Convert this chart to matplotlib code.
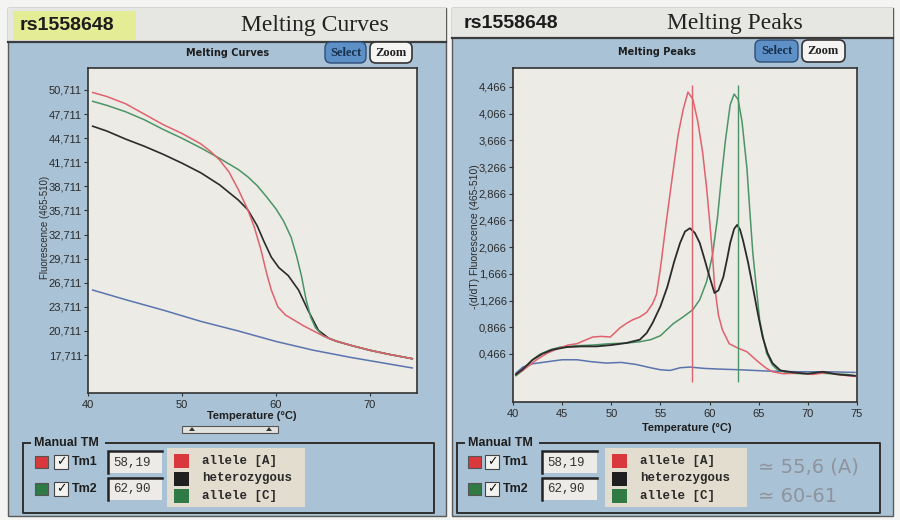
import matplotlib
matplotlib.use("Agg")
import matplotlib.pyplot as plt
from matplotlib.patches import Rectangle, FancyBboxPatch, Polygon
from matplotlib import font_manager

# ---------------- data ----------------
assay_id = "rs1558648"
tm1 = 58.19
tm2 = 62.90
legend_labels = ["allele [A]", "heterozygous", "allele [C]"]

# Melting curves: fluorescence (465-510) vs temperature
mc_red_t = [40.5, 42, 44, 46, 48, 50, 52, 53, 54, 55, 56, 57, 57.7, 58.4, 59.0, 59.5,
            60.2, 61, 62, 63, 64, 65, 66, 68, 70, 72, 74.5]
mc_red_f = [50400, 49900, 49000, 47700, 46400, 45300, 44000, 43100, 42000, 40500, 38300,
            35800, 33600, 30800, 27900, 25800, 23700, 22700, 22000, 21300, 20700, 20100,
            19600, 18900, 18300, 17800, 17250]
mc_green_t = [40.5, 42, 44, 46, 48, 50, 52, 54, 56, 57, 58, 59, 60, 60.8, 61.6, 62.2,
              62.7, 63.2, 63.7, 64.2, 65, 66, 68, 70, 72, 74.5]
mc_green_f = [49300, 48800, 48000, 47000, 45800, 44700, 43500, 42200, 40800, 39900, 38800,
              37400, 35900, 34400, 32400, 30000, 27600, 24600, 22400, 21100, 20100, 19600,
              18900, 18300, 17800, 17250]
mc_black_t = [40.5, 42, 44, 46, 48, 50, 52, 54, 56, 57, 58, 58.7, 59.5, 60.3, 61.3, 62.4,
              63.4, 64.5, 65.6, 66.5, 68, 70, 72, 74.5]
mc_black_f = [46200, 45600, 44600, 43700, 42700, 41600, 40400, 38900, 37000, 35800, 33800,
              31900, 29900, 28600, 27600, 25800, 23300, 20800, 19800, 19400, 18900, 18300,
              17800, 17250]
mc_blue_t = [40.5, 44, 48, 52, 56, 60, 64, 68, 72, 74.5]
mc_blue_f = [25800, 24600, 23300, 21900, 20700, 19400, 18300, 17400, 16600, 16100]

mc_yticks = [17711, 20711, 23711, 26711, 29711, 32711, 35711, 38711, 41711, 44711, 47711, 50711]
mc_xticks = [40, 50, 60, 70]

# Melting peaks: -(d/dT) fluorescence vs temperature
mp_red_t = [40.3, 41.0, 42.4, 43.5, 44.8, 45.6, 46.5, 47.3, 48.1, 49.0, 49.9, 50.9, 51.6,
            52.2, 52.9, 53.6, 54.2, 54.6, 55.0, 55.6, 56.3, 56.8, 57.3, 57.8, 58.3, 58.8,
            59.3, 59.7, 60.0, 60.3, 60.5, 60.9, 61.3, 62.0, 62.8, 63.8, 64.4, 65.1, 65.8,
            66.4, 67.5, 69.0, 70.5, 72.0, 73.5, 74.8]
mp_red_v = [0.16, 0.22, 0.38, 0.48, 0.56, 0.60, 0.62, 0.67, 0.72, 0.73, 0.72, 0.86, 0.93,
            0.98, 1.02, 1.09, 1.22, 1.36, 1.75, 2.45, 3.22, 3.75, 4.12, 4.39, 4.28, 3.95,
            3.48, 2.95, 2.47, 1.95, 1.50, 1.05, 0.83, 0.62, 0.56, 0.50, 0.42, 0.33, 0.25,
            0.20, 0.17, 0.18, 0.16, 0.19, 0.15, 0.13]
mp_green_t = [40.3, 41.0, 42.0, 42.7, 43.8, 44.8, 46.5, 48.1, 49.8, 51.6, 52.9, 54.0, 55.0,
              56.3, 57.3, 58.3, 59.0, 59.7, 60.3, 60.8, 61.2, 61.6, 62.1, 62.5, 62.9, 63.3,
              63.8, 64.1, 64.4, 64.8, 65.1, 65.5, 65.8, 66.4, 66.9, 68.0, 69.5, 71.0, 72.5,
              74.0, 74.8]
mp_green_v = [0.14, 0.22, 0.38, 0.46, 0.53, 0.57, 0.59, 0.60, 0.62, 0.63, 0.65, 0.68, 0.74,
              0.92, 1.02, 1.13, 1.28, 1.55, 1.95, 2.50, 3.10, 3.65, 4.20, 4.36, 4.28, 3.95,
              3.25, 2.60, 1.98, 1.40, 0.97, 0.68, 0.48, 0.30, 0.23, 0.18, 0.17, 0.18, 0.17,
              0.16, 0.14]
mp_black_t = [40.3, 41.0, 42.0, 43.0, 44.0, 45.5, 47.0, 48.5, 50.0, 51.5, 52.9, 53.6, 54.2,
              55.0, 55.7, 56.4, 57.0, 57.5, 58.0, 58.5, 59.0, 59.5, 60.0, 60.5, 60.9, 61.4,
              61.8, 62.1, 62.5, 62.8, 63.1, 63.4, 63.9, 64.4, 64.9, 65.4, 65.9, 66.4, 67.2,
              68.5, 70.0, 71.5, 73.0, 74.8]
mp_black_v = [0.16, 0.24, 0.38, 0.47, 0.53, 0.57, 0.58, 0.58, 0.60, 0.63, 0.68, 0.78, 0.93,
              1.18, 1.47, 1.85, 2.13, 2.30, 2.35, 2.28, 2.13, 1.88, 1.62, 1.38, 1.42, 1.62,
              1.90, 2.13, 2.34, 2.40, 2.33, 2.17, 1.85, 1.47, 1.08, 0.72, 0.48, 0.33, 0.22,
              0.19, 0.17, 0.20, 0.16, 0.14]
mp_blue_t = [40.3, 41.0, 42.0, 43.5, 45.0, 46.5, 48.0, 49.5, 51.0, 52.5, 54.0, 55.0, 56.0,
             57.0, 58.0, 59.5, 61.0, 63.0, 66.0, 69.0, 72.0, 74.8]
mp_blue_v = [0.18, 0.27, 0.32, 0.35, 0.38, 0.38, 0.35, 0.33, 0.34, 0.31, 0.26, 0.23, 0.22,
             0.26, 0.27, 0.25, 0.24, 0.23, 0.21, 0.20, 0.20, 0.19]

mp_yticks = [0.466, 0.866, 1.266, 1.666, 2.066, 2.466, 2.866, 3.266, 3.666, 4.066, 4.466]
mp_xticks = [40, 45, 50, 55, 60, 65, 70, 75]
tm_line_span = (0.05, 4.5)

notes = ["\u2243 55,6 (A)", "\u2243 60-61"]

# ---------------- styles ----------------
C_RED = "#e0626c"
C_GREEN = "#4c9466"
C_BLACK = "#2b2b2b"
C_BLUE = "#5a74ad"
SW_RED = "#d9393c"
SW_BLACK = "#1f1f1f"
SW_GREEN = "#2f7a45"
PANEL = "#a9c2d6"
PLOT_BG = "#ecebe6"
HEADER = "#e6e6e3"

names = {f.name for f in font_manager.fontManager.ttflist}
NARROW = "Liberation Sans Narrow" if "Liberation Sans Narrow" in names else "Liberation Sans"

W, H = 900, 520
fig = plt.figure(figsize=(W / 100, H / 100), dpi=100, facecolor="#f4f4f2")

bg = fig.add_axes([0, 0, 1, 1])
bg.set_xlim(0, W)
bg.set_ylim(H, 0)
bg.axis("off")


def rect(x0, y0, x1, y1, **kw):
    bg.add_patch(Rectangle((x0, y0), x1 - x0, y1 - y0, **kw))


def rbox(x0, y0, x1, y1, r=6, **kw):
    bg.add_patch(FancyBboxPatch((x0, y0), x1 - x0, y1 - y0,
                                boxstyle=f"round,pad=0,rounding_size={r}", **kw))


def px_axes(x0, y0, x1, y1):
    return fig.add_axes([x0 / W, 1 - y1 / H, (x1 - x0) / W, (y1 - y0) / H])


def panel(x0, x1, header_bottom, title, title_x, highlight):
    rect(x0, 8, x1, 516, facecolor=PANEL, edgecolor="#5a5a5a", lw=1.0, zorder=1)
    rect(x0, 8, x1, header_bottom, facecolor=HEADER, edgecolor="none", zorder=2)
    bg.plot([x0, x1], [header_bottom, header_bottom], color="#3c3c3c", lw=1.6, zorder=3)
    if highlight:
        rect(x0 + 5, 11, x0 + 128, header_bottom - 2, facecolor="#e4ec95",
             edgecolor="none", zorder=3)
    bg.text(x0 + 12, (8 + header_bottom) / 2 + 1, assay_id, fontsize=14,
            fontweight="bold", family="Liberation Sans", color="#1c1c1c",
            va="center", ha="left", zorder=4)
    bg.text(title_x, (8 + header_bottom) / 2 + 1, title, fontsize=17,
            family="Liberation Serif", color="#222222", va="center", ha="center", zorder=4)


def buttons(sx0, sx1, zx0, zx1, y0, y1):
    rbox(sx0, y0, sx1, y1, r=6, facecolor="#5d90c6", edgecolor="#2f4f75", lw=1.0, zorder=4)
    bg.text((sx0 + sx1) / 2, (y0 + y1) / 2 + 0.5, "Select", fontsize=9, fontweight="bold",
            family="Liberation Serif", color="#17304d", ha="center", va="center", zorder=5)
    rbox(zx0, y0, zx1, y1, r=6, facecolor="#f4f4f2", edgecolor="#333333", lw=1.2, zorder=4)
    bg.text((zx0 + zx1) / 2, (y0 + y1) / 2 + 0.5, "Zoom", fontsize=9, fontweight="bold",
            family="Liberation Serif", color="#222222", ha="center", va="center", zorder=5)


def manual_tm(x0, x1, y0, y1, sw_x, chk_x, lab_x, tb_x0, tb_x1, lg_x0, lg_x1):
    # group frame
    bg.plot([x0, x0, x1, x1, x0], [y0, y1, y1, y0, y0], color="#303030", lw=1.4, zorder=3)
    rect(x0 + 8, y0 - 7, x0 + 82, y0 + 6, facecolor=PANEL, edgecolor="none", zorder=4)
    bg.text(x0 + 11, y0, "Manual TM", fontsize=9, fontweight="bold",
            family="Liberation Sans", color="#1e1e1e", va="center", ha="left", zorder=5)
    rows = [(y0 + 19, SW_RED, "Tm1", tm1), (y0 + 46, SW_GREEN, "Tm2", tm2)]
    for yc, col, lab, val in rows:
        rect(sw_x, yc - 6, sw_x + 13, yc + 6, facecolor=col, edgecolor="#555555",
             lw=0.8, zorder=5)
        rect(chk_x, yc - 7, chk_x + 14, yc + 7, facecolor="#f2f2f0", edgecolor="#444444",
             lw=0.8, zorder=5)
        bg.text(chk_x + 7, yc, "\u2713", fontsize=9, fontweight="bold",
                family="DejaVu Sans", color="#111111", ha="center", va="center", zorder=6)
        bg.text(lab_x, yc, lab, fontsize=9, fontweight="bold", family="Liberation Sans",
                color="#1e1e1e", ha="left", va="center", zorder=5)
        rect(tb_x0, yc - 11, tb_x1, yc + 11, facecolor="#ecebe8", edgecolor="none", zorder=5)
        bg.plot([tb_x0, tb_x0, tb_x1], [yc + 11, yc - 11, yc - 11], color="#222222",
                lw=1.8, zorder=6, solid_joinstyle="miter")
        bg.text(tb_x0 + 5, yc + 0.5, f"{val:.2f}".replace(".", ","), fontsize=9,
                family="Liberation Mono", color="#333333", ha="left", va="center", zorder=6)
    # series legend
    rect(lg_x0, y0 + 5, lg_x1, y1 - 6, facecolor="#e3ddd0", edgecolor="none", zorder=4)
    for i, (col, lab) in enumerate(zip([SW_RED, SW_BLACK, SW_GREEN], legend_labels)):
        yc = y0 + 18 + i * 17.5
        rect(lg_x0 + 7, yc - 7, lg_x0 + 22, yc + 7, facecolor=col, edgecolor="none", zorder=5)
        bg.text(lg_x0 + 35, yc, lab, fontsize=9, family="Liberation Mono",
                fontweight="bold", color="#2a2a2a", ha="left", va="center", zorder=5)


# ---------------- left panel: melting curves ----------------
panel(8, 446, 42, "Melting Curves", 315, True)
bg.text(228, 53, "Melting Curves", fontsize=7, fontweight="bold", family="DejaVu Sans",
        color="#1e1e1e", ha="center", va="center", zorder=4)
buttons(325, 366, 370, 412, 42, 63)
bg.text(45, 227, "Fluorescence (465-510)", rotation=90, fontsize=7, family=NARROW,
        color="#2a2a2a", ha="center", va="center", zorder=4)
bg.text(252, 416, "Temperature (\u00b0C)", fontsize=8, fontweight="bold",
        family="Liberation Sans", color="#1e1e1e", ha="center", va="center", zorder=4)
# scroll bar under the axis
rect(182, 426, 278, 433, facecolor="#e2e2e0", edgecolor="#555555", lw=0.8, zorder=4)
for tx in (192, 269):
    bg.add_patch(Polygon([[tx - 3, 431], [tx + 3, 431], [tx, 427]], closed=True,
                         facecolor="#333333", edgecolor="none", zorder=5))
manual_tm(23, 434, 443, 513, 35, 54, 72, 108, 162, 167, 305)

ax1 = px_axes(88, 68, 417, 393)
ax1.set_facecolor(PLOT_BG)
ax1.plot(mc_blue_t, mc_blue_f, color=C_BLUE, lw=1.1)
ax1.plot(mc_black_t, mc_black_f, color=C_BLACK, lw=1.2)
ax1.plot(mc_green_t, mc_green_f, color=C_GREEN, lw=1.1)
ax1.plot(mc_red_t, mc_red_f, color=C_RED, lw=1.1)
ax1.set_xlim(40, 75)
ax1.set_ylim(12980, 53450)
ax1.set_xticks(mc_xticks)
ax1.set_xticklabels([str(t) for t in mc_xticks])
ax1.set_yticks(mc_yticks)
ax1.set_yticklabels([f"{v:,}" for v in mc_yticks])

# ---------------- right panel: melting peaks ----------------
panel(452, 893, 38, "Melting Peaks", 735, False)
bg.text(657, 52, "Melting Peaks", fontsize=7, fontweight="bold", family="DejaVu Sans",
        color="#1e1e1e", ha="center", va="center", zorder=4)
buttons(755, 798, 802, 845, 40, 62)
bg.text(475, 237, "-(d/dT) Fluorescence (465-510)", rotation=90, fontsize=7.5,
        family=NARROW, color="#2a2a2a", ha="center", va="center", zorder=4)
bg.text(687, 428, "Temperature (\u00b0C)", fontsize=8, fontweight="bold",
        family="Liberation Sans", color="#1e1e1e", ha="center", va="center", zorder=4)
manual_tm(457, 880, 443, 513, 468, 485, 503, 542, 597, 605, 747)
for i, note in enumerate(notes):
    bg.text(758, 467 + i * 30, note, fontsize=14, family=["DejaVu Sans"], color="#8e949e",
            ha="left", va="center", zorder=5)

ax2 = px_axes(513, 68, 857, 402)
ax2.set_facecolor(PLOT_BG)
ax2.plot(mp_blue_t, mp_blue_v, color=C_BLUE, lw=1.1)
ax2.plot(mp_green_t, mp_green_v, color=C_GREEN, lw=1.1)
ax2.plot(mp_red_t, mp_red_v, color=C_RED, lw=1.1)
ax2.plot(mp_black_t, mp_black_v, color=C_BLACK, lw=1.3)
ax2.vlines([tm1], *tm_line_span, color=C_RED, lw=1.0)
ax2.vlines([tm2], *tm_line_span, color=C_GREEN, lw=1.0)
ax2.set_xlim(40, 75)
ax2.set_ylim(-0.253, 4.75)
ax2.set_xticks(mp_xticks)
ax2.set_xticklabels([str(t) for t in mp_xticks])
ax2.set_yticks(mp_yticks)
ax2.set_yticklabels([f"{v:.3f}".replace(".", ",") for v in mp_yticks])

for ax, pad in ((ax1, 3), (ax2, 3)):
    for s in ax.spines.values():
        s.set_color("#333333")
        s.set_linewidth(1.2)
    ax.tick_params(axis="y", direction="out", length=3, width=0.8, color="#333333",
                   labelsize=8, labelcolor="#2a2a2a", pad=1.5)
    ax.tick_params(axis="x", direction="out", length=2, width=0.8, color="#333333",
                   labelsize=8, labelcolor="#2a2a2a", pad=pad)
    for lab in ax.get_xticklabels() + ax.get_yticklabels():
        lab.set_family(NARROW)

fig.savefig("out.png", dpi=100, facecolor=fig.get_facecolor())
